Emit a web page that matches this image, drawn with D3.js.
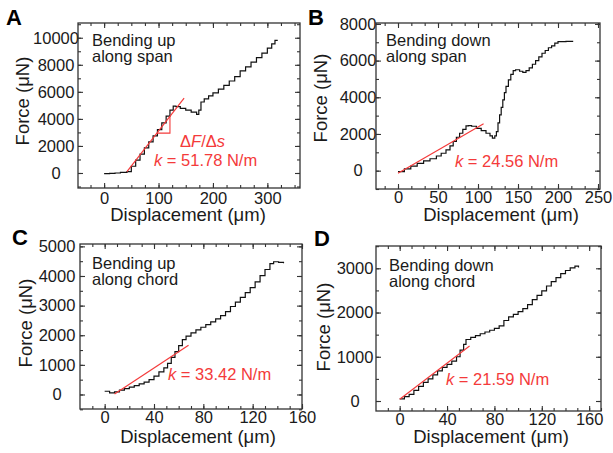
<!DOCTYPE html>
<html>
<head>
<meta charset="utf-8">
<script src="https://cdn.jsdelivr.net/npm/d3@7"></script>
<style>
body { margin: 0; background: #fff; }
svg { font-family: "Liberation Sans", Arial, sans-serif; }
</style>
</head>
<body>
<svg id="chart" width="613" height="453"></svg>
<script>
//data (displacement in um, force in uN)
// A - bending up along span
var dispA  = [0, 10, 20, 30, 42, 50, 58, 66, 74, 82, 90, 98, 106, 114, 121, 127, 132, 140, 150, 160, 170, 174, 178, 184, 192, 200, 210, 220, 230, 240, 250, 260, 270, 280, 290, 300, 308, 314, 318];
var forceA = [-50, -30, 0, 40, 100, 500, 950, 1400, 1850, 2300, 2750, 3200, 3700, 4200, 4650, 4950, 4900, 4780, 4650, 4500, 4330, 4650, 5250, 5480, 5700, 5920, 6200, 6480, 6800, 7130, 7550, 7850, 8200, 8530, 8870, 9230, 9550, 9800, 9860];
var fitDispA = [42, 147], fitForceA = [100, 5540];
var triDispA = [97, 121, 121], triForceA = [2950, 2950, 4190];

// B - bending down along span
var dispB  = [0, 8, 16, 24, 32, 40, 48, 54, 60, 65, 69, 73, 77, 81, 85, 88, 92, 98, 104, 110, 115, 118, 121, 123, 125, 127, 129, 131, 133, 135, 138, 141, 144, 147, 152, 156, 160, 164, 168, 172, 176, 180, 184, 188, 192, 196, 200, 210, 219];
var forceB = [-50, 100, 250, 400, 530, 650, 800, 950, 1130, 1350, 1590, 1820, 2040, 2250, 2440, 2460, 2420, 2310, 2180, 2040, 1900, 1770, 1900, 2130, 2600, 3040, 3450, 3860, 4250, 4590, 4950, 5250, 5450, 5500, 5420, 5360, 5450, 5600, 5800, 6000, 6200, 6400, 6550, 6700, 6800, 6950, 7030, 7050, 7050];
var fitDispB = [0, 107], fitForceB = [-140, 2560];

// C - bending up along chord
var dispC  = [0, 4, 8, 12, 16, 20, 24, 28, 32, 36, 40, 44, 48, 51, 54, 57, 60, 63, 66, 70, 74, 78, 82, 86, 90, 94, 98, 102, 106, 110, 114, 118, 122, 126, 130, 134, 137, 141, 145];
var forceC = [110, 55, 90, 150, 200, 250, 300, 360, 420, 500, 620, 760, 900, 1050, 1250, 1450, 1650, 1850, 1970, 2080, 2180, 2270, 2360, 2450, 2550, 2660, 2800, 2970, 3120, 3280, 3440, 3610, 3800, 4010, 4220, 4420, 4480, 4460, 4430];
var fitDispC = [8, 68], fitForceC = [20, 1660];

// D - bending down along chord
var dispD  = [0, 4, 8, 12, 16, 20, 24, 28, 32, 36, 40, 44, 48, 51, 54, 56, 60, 64, 68, 72, 76, 80, 84, 88, 92, 96, 100, 104, 108, 112, 116, 120, 124, 128, 132, 136, 140, 144, 148, 151];
var forceD = [50, 100, 150, 240, 330, 420, 500, 590, 680, 760, 830, 900, 1000, 1150, 1280, 1390, 1440, 1480, 1520, 1560, 1600, 1640, 1700, 1820, 1900, 1960, 2020, 2090, 2180, 2290, 2390, 2490, 2600, 2700, 2790, 2880, 2950, 3010, 3050, 3020];
var fitDispD = [0, 59], fitForceD = [40, 1245];

//tick labels
var xTicksA = [0, 100, 200, 300], yTicksA = [0, 2000, 4000, 6000, 8000, 10000];
var xTicksB = [0, 50, 100, 150, 200, 250], yTicksB = [0, 2000, 4000, 6000, 8000];
var xTicksC = [0, 40, 80, 120, 160], yTicksC = [0, 1000, 2000, 3000, 4000, 5000];
var xTicksD = [0, 40, 80, 120, 160], yTicksD = [0, 1000, 2000, 3000];

var red = '#f43a3a';
var ink = '#1a1a1a';
var svg = d3.select('#chart');

var panels = [
    { letter: 'A', lx: 6, ly: 25,
      box: {x0: 78, x1: 300, y0: 23, y1: 188}, xPad: 4,
      xDomain: [-48, 360], yDomain: [-1110, 11090],
      xTicks: xTicksA, xMinor: d3.range(-25, 360, 25),
      yTicks: yTicksA, yMinor: d3.range(-1000, 11001, 1000),
      yLabelX: 56, xTitle: [188, 221], yTitle: [29, 101],
      disp: dispA, force: forceA, fitD: fitDispA, fitF: fitForceA,
      tri: [triDispA, triForceA],
      label: ['Bending up', 'along span'], labelPos: [92, 46],
      k: ' = 51.78 N/m', kPos: [154, 166], ds: [180, 147] },
    { letter: 'B', lx: 308, ly: 25,
      box: {x0: 376, x1: 600, y0: 23, y1: 189}, xPad: 2,
      xDomain: [-27.5, 252.5], yDomain: [-1000, 8050],
      xTicks: xTicksB, xMinor: d3.range(-50 / 3, 253, 50 / 3),
      yTicks: yTicksB, yMinor: d3.range(-1000, 8001, 1000),
      yLabelX: 358, xTitle: [501, 221], yTitle: [327, 98],
      disp: dispB, force: forceB, fitD: fitDispB, fitF: fitForceB,
      label: ['Bending down', 'along span'], labelPos: [386, 46],
      k: ' = 24.56 N/m', kPos: [455, 167] },
    { letter: 'C', lx: 12, ly: 245,
      box: {x0: 80, x1: 302, y0: 244, y1: 409}, xPad: 2,
      xDomain: [-20, 160], yDomain: [-490, 5080],
      xTicks: xTicksC, xMinor: d3.range(-10, 161, 10),
      yTicks: yTicksC, yMinor: d3.range(-500, 5001, 500),
      yLabelX: 57, xTitle: [198, 443], yTitle: [32, 323],
      disp: dispC, force: forceC, fitD: fitDispC, fitF: fitForceC,
      label: ['Bending up', 'along chord'], labelPos: [92, 269],
      k: ' = 33.42 N/m', kPos: [168, 380] },
    { letter: 'D', lx: 314, ly: 246,
      box: {x0: 376, x1: 601, y0: 246, y1: 411}, xPad: 2,
      xDomain: [-20, 170], yDomain: [-226, 3504],
      xTicks: xTicksD, xMinor: d3.range(-10, 171, 10),
      yTicks: yTicksD, yMinor: d3.range(0, 3501, 500),
      yLabelX: 355, xTitle: [491, 443], yTitle: [330, 327],
      disp: dispD, force: forceD, fitD: fitDispD, fitF: fitForceD,
      label: ['Bending down', 'along chord'], labelPos: [389, 271],
      k: ' = 21.59 N/m', kPos: [446, 385] }
];

panels.forEach(drawPanel);

// Draws one panel: frame, inward ticks on all sides, curve, fit line, texts
function drawPanel(p)
{
    var b = p.box;
    var x = d3.scaleLinear().domain(p.xDomain).range([b.x0, b.x1]);
    var y = d3.scaleLinear().domain(p.yDomain).range([b.y1, b.y0]);
    var g = svg.append('g');
    var fmt = d3.format('d');

    //axes, all ticks pointing inside
    var axes = [
        [d3.axisBottom(x).tickValues(p.xTicks).tickSize(-5).tickPadding(p.xPad).tickFormat(fmt), `translate(0,${b.y1})`],
        [d3.axisBottom(x).tickValues(p.xMinor).tickSize(-3).tickFormat(''), `translate(0,${b.y1})`],
        [d3.axisTop(x).tickValues(p.xTicks).tickSize(-5).tickFormat(''), `translate(0,${b.y0})`],
        [d3.axisTop(x).tickValues(p.xMinor).tickSize(-3).tickFormat(''), `translate(0,${b.y0})`],
        [d3.axisLeft(y).tickValues(p.yTicks).tickSize(-5).tickFormat(fmt), `translate(${b.x0},0)`],
        [d3.axisLeft(y).tickValues(p.yMinor).tickSize(-3).tickFormat(''), `translate(${b.x0},0)`],
        [d3.axisRight(y).tickValues(p.yTicks).tickSize(-5).tickFormat(''), `translate(${b.x1},0)`],
        [d3.axisRight(y).tickValues(p.yMinor).tickSize(-3).tickFormat(''), `translate(${b.x1},0)`]
    ];
    axes.forEach(function(a, i) {
        var ag = g.append('g').attr('transform', a[1]).call(a[0]);
        ag.select('.domain').remove();
        ag.attr('font-size', null).attr('font-family', null);
        ag.selectAll('line').attr('stroke', '#333').attr('stroke-width', 1.1);
        ag.selectAll('text').attr('fill', ink).style('font-size', '16.5px');
        if (i == 4) {
            // y labels are centred in the original
            ag.selectAll('text').attr('text-anchor', 'middle').attr('x', p.yLabelX - b.x0);
        }
    });

    //frame
    g.append('rect')
        .attr('x', b.x0).attr('y', b.y0)
        .attr('width', b.x1 - b.x0).attr('height', b.y1 - b.y0)
        .attr('fill', 'none').attr('stroke', '#333').attr('stroke-width', 1.3);

    //measured curve
    var line = d3.line()
        .x(d => x(d[0]))
        .y(d => y(d[1]));
    g.append('path')
        .datum(d3.zip(p.disp, p.force))
        .attr('d', line.curve(d3.curveStepAfter))
        .attr('fill', 'none').attr('stroke', '#111').attr('stroke-width', 1.2);

    //fit line
    g.append('path')
        .datum(d3.zip(p.fitD, p.fitF))
        .attr('d', line.curve(d3.curveLinear))
        .attr('fill', 'none').attr('stroke', red).attr('stroke-width', 1.2);

    if (p.tri) {
        g.append('path')
            .datum(d3.zip(p.tri[0], p.tri[1]))
            .attr('d', line.curve(d3.curveLinear))
            .attr('fill', 'none').attr('stroke', red).attr('stroke-width', 1.1);
    }

    //texts
    svg.append('text')
        .attr('x', p.lx).attr('y', p.ly)
        .style('font-size', '22px').style('font-weight', 'bold')
        .attr('fill', '#000').text(p.letter);

    var lab = svg.append('text')
        .attr('x', p.labelPos[0]).attr('y', p.labelPos[1])
        .style('font-size', '16.5px').attr('fill', ink);
    lab.append('tspan').text(p.label[0]);
    lab.append('tspan').attr('x', p.labelPos[0]).attr('dy', 16).text(p.label[1]);

    var kt = svg.append('text')
        .attr('x', p.kPos[0]).attr('y', p.kPos[1])
        .style('font-size', '16.5px').attr('fill', red);
    kt.append('tspan').style('font-style', 'italic').text('k');
    kt.append('tspan').text(p.k);

    if (p.ds) {
        var dt = svg.append('text')
            .attr('x', p.ds[0]).attr('y', p.ds[1])
            .style('font-size', '16.5px').attr('fill', red);
        dt.append('tspan').text('\u0394');
        dt.append('tspan').style('font-style', 'italic').text('F');
        dt.append('tspan').text('/\u0394');
        dt.append('tspan').style('font-style', 'italic').text('s');
    }

    svg.append('text')
        .attr('x', p.xTitle[0]).attr('y', p.xTitle[1])
        .attr('text-anchor', 'middle')
        .style('font-size', '18.5px').attr('fill', ink)
        .text('Displacement (\u03bcm)');

    svg.append('text')
        .attr('transform', `translate(${p.yTitle[0]},${p.yTitle[1]}) rotate(-90)`)
        .attr('text-anchor', 'middle')
        .style('font-size', '18.5px').attr('fill', ink)
        .text('Force (\u03bcN)');
}
</script>
</body>
</html>
